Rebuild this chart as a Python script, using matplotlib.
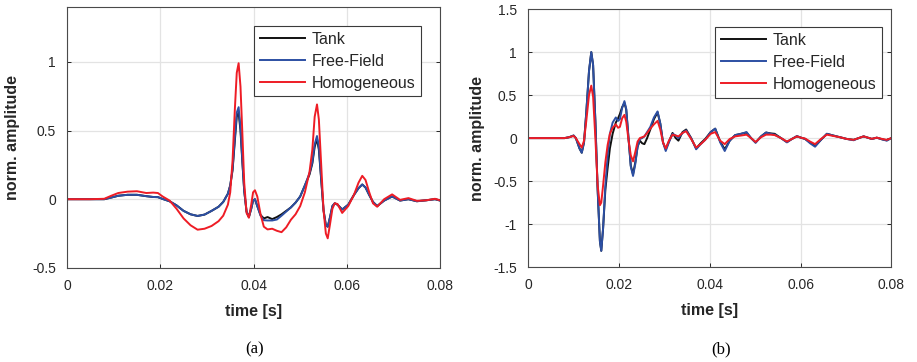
import matplotlib
matplotlib.use('Agg')
import matplotlib.pyplot as plt
import numpy as np

# --- panel (a): time in ms, normalised amplitude ---
t_a = [0, 5, 8, 9.5, 11, 13, 15, 17, 18.5, 19.5, 20.5, 22, 23.5, 25, 26.5, 28, 29.5, 31,
       32.5, 33.5, 34.5, 35.0, 35.5, 36.0, 36.4, 36.8, 37.2, 37.6, 38.0, 38.5, 39.0, 39.5,
       39.9, 40.3, 40.8, 41.5, 42.2, 43, 44, 45, 46, 47, 48, 49, 50, 51, 52, 52.6, 53.1,
       53.6, 54.0, 54.5, 55.0, 55.5, 55.9, 56.4, 56.9, 57.4, 58.0, 59, 60.3, 61.5, 62.5,
       63.3, 64.0, 64.8, 65.6, 66.5, 68, 69.7, 71.4, 73.2, 75, 77, 78.9, 80]
tank_a = [0, 0, 0, 0.012, 0.025, 0.032, 0.032, 0.022, 0.016, 0.015, 0.002, -0.015, -0.045,
          -0.085, -0.11, -0.122, -0.112, -0.085, -0.055, -0.02, 0.04, 0.10, 0.21, 0.43, 0.60,
          0.63, 0.50, 0.27, 0.06, -0.09, -0.13, -0.07, -0.01, 0.0, -0.05, -0.115, -0.14,
          -0.13, -0.145, -0.13, -0.11, -0.085, -0.06, -0.025, 0.02, 0.10, 0.18, 0.26, 0.38,
          0.44, 0.36, 0.14, -0.08, -0.19, -0.2, -0.13, -0.05, -0.03, -0.04, -0.075, -0.04,
          0.03, 0.08, 0.107, 0.085, 0.03, -0.02, -0.05, -0.01, 0.02, -0.01, 0.0, -0.015,
          -0.008, 0.0, -0.01]
free_a = [0, 0, 0, 0.012, 0.025, 0.032, 0.032, 0.022, 0.016, 0.015, 0.002, -0.015, -0.045,
          -0.085, -0.11, -0.122, -0.112, -0.085, -0.055, -0.02, 0.04, 0.10, 0.22, 0.45, 0.63,
          0.67, 0.52, 0.28, 0.06, -0.09, -0.13, -0.07, -0.01, 0.0, -0.05, -0.12, -0.153,
          -0.155, -0.155, -0.148, -0.12, -0.09, -0.06, -0.025, 0.02, 0.10, 0.19, 0.27, 0.40,
          0.46, 0.38, 0.15, -0.08, -0.19, -0.2, -0.13, -0.05, -0.03, -0.04, -0.075, -0.04,
          0.03, 0.08, 0.107, 0.085, 0.03, -0.02, -0.05, -0.01, 0.02, -0.01, 0.0, -0.015,
          -0.008, 0.0, -0.01]
homog_a = [0, 0, 0.003, 0.025, 0.045, 0.055, 0.058, 0.045, 0.048, 0.045, 0.02, -0.01, -0.07,
           -0.14, -0.19, -0.222, -0.215, -0.195, -0.16, -0.12, -0.04, 0.05, 0.28, 0.66, 0.92,
           0.99, 0.82, 0.48, 0.12, -0.10, -0.135, -0.04, 0.05, 0.065, 0.02, -0.11, -0.2,
           -0.22, -0.215, -0.23, -0.24, -0.205, -0.15, -0.11, -0.05, 0.05, 0.20, 0.36, 0.60,
           0.69, 0.58, 0.25, -0.08, -0.25, -0.285, -0.18, -0.07, -0.03, -0.035, -0.10, -0.05,
           0.03, 0.12, 0.17, 0.14, 0.05, -0.03, -0.055, 0.0, 0.035, -0.005, 0.008, -0.012,
           -0.008, 0.003, -0.008]

# --- panel (b) ---
t_b = [0, 8, 9, 10, 10.5, 11.3, 11.8, 12.3, 12.8, 13.4, 13.9, 14.3, 14.8, 15.3, 15.8, 16.1,
       16.5, 17.0, 17.5, 18.0, 18.6, 19.3, 19.8, 20.2, 20.7, 21.2, 21.6, 22.1, 22.6, 23.1,
       23.6, 24.1, 24.6, 25.1, 25.6, 26.2, 26.9, 27.7, 28.5, 29.1, 29.7, 30.3, 31.0, 31.8,
       32.5, 33.1, 34.0, 34.8, 35.9, 37.0, 38.0, 39.0, 40.2, 41.2, 42.3, 43.3, 44.4, 45.6,
       46.9, 48.1, 49.1, 50.1, 51.3, 52.4, 53.4, 54.3, 55.7, 57.0, 58.1, 59.2, 60.1, 61.0,
       62.1, 63.2, 64.5, 65.8, 67.2, 68.7, 70.2, 71.7, 72.8, 73.9, 75.7, 76.8, 78.0, 79.0, 80]
tank_b = [0, 0, 0.01, 0.03, 0.0, -0.12, -0.17, -0.05, 0.3, 0.78, 1.0, 0.85, 0.2, -0.6, -1.2,
          -1.31, -1.05, -0.6, -0.35, -0.12, 0.05, 0.18, 0.23, 0.28, 0.36, 0.41, 0.33, 0.0,
          -0.32, -0.42, -0.28, -0.1, -0.03, -0.06, -0.07, 0.0, 0.10, 0.22, 0.30, 0.17, -0.05,
          -0.13, -0.04, 0.06, 0.0, -0.03, 0.07, 0.10, 0.0, -0.12, -0.06, -0.01, 0.07, 0.11,
          -0.04, -0.13, -0.03, 0.035, 0.05, 0.065, 0.0, -0.05, 0.02, 0.065, 0.055, 0.05, 0.0,
          -0.045, -0.01, 0.02, 0.005, -0.01, -0.05, -0.09, -0.02, 0.05, 0.03, 0.01, -0.01,
          -0.02, 0.0, 0.02, -0.01, 0.005, -0.015, -0.025, 0.0]
free_b = [0, 0, 0.01, 0.03, 0.0, -0.12, -0.17, -0.05, 0.3, 0.78, 1.0, 0.85, 0.2, -0.6, -1.2,
          -1.31, -1.05, -0.55, -0.2, 0.05, 0.18, 0.24, 0.2, 0.22, 0.35, 0.43, 0.34, 0.0,
          -0.33, -0.44, -0.3, -0.1, -0.01, 0.0, 0.02, 0.07, 0.13, 0.24, 0.31, 0.17, -0.05,
          -0.15, -0.05, 0.05, 0.03, 0.0, 0.06, 0.09, 0.0, -0.13, -0.07, -0.02, 0.07, 0.11,
          -0.05, -0.15, -0.03, 0.035, 0.05, 0.07, 0.0, -0.055, 0.02, 0.065, 0.05, 0.04, 0.0,
          -0.05, -0.01, 0.025, 0.005, -0.01, -0.06, -0.10, -0.02, 0.05, 0.03, 0.01, -0.01,
          -0.025, 0.0, 0.02, -0.01, 0.005, -0.015, -0.03, 0.0]
homog_b = [0, 0, 0.01, 0.025, 0.0, -0.07, -0.11, -0.03, 0.2, 0.5, 0.61, 0.48, 0.0, -0.55,
           -0.78, -0.75, -0.55, -0.28, -0.08, 0.05, 0.12, 0.16, 0.12, 0.13, 0.23, 0.27, 0.19,
           -0.02, -0.2, -0.27, -0.16, -0.04, 0.0, 0.01, 0.02, 0.06, 0.11, 0.16, 0.20, 0.10,
           -0.05, -0.12, -0.03, 0.04, 0.03, 0.02, 0.06, 0.08, -0.01, -0.11, -0.07, -0.02, 0.05,
           0.07, -0.03, -0.07, -0.01, 0.02, 0.03, 0.04, 0.0, -0.045, 0.01, 0.04, 0.04, 0.035,
           0.0, -0.04, -0.01, 0.02, 0.005, -0.005, -0.04, -0.07, -0.01, 0.04, 0.025, 0.01,
           -0.01, -0.02, 0.0, 0.02, -0.008, 0.005, -0.01, -0.02, 0.0]

series_names = ['Tank', 'Free-Field', 'Homogeneous']
series_colors = ['#111111', '#2c4fa3', '#ee1c25']

plt.rcParams['font.family'] = ['Liberation Sans', 'DejaVu Sans']

fig = plt.figure(figsize=(9.17, 3.62), dpi=100)
ax_a = fig.add_axes([0.073, 0.260, 0.407, 0.721])
ax_b = fig.add_axes([0.576, 0.262, 0.396, 0.713])


def style_axes(ax, ylim, yticks, leg_anchor):
    ax.set_xlim(0, 0.08)
    ax.set_ylim(*ylim)
    ax.set_xticks([0, 0.02, 0.04, 0.06, 0.08])
    ax.set_xticklabels(['0', '0.02', '0.04', '0.06', '0.08'])
    ax.set_yticks(yticks)
    ax.set_yticklabels(['%g' % v for v in yticks])
    ax.grid(True, color='#e3e3e3', linewidth=0.9)
    ax.set_axisbelow(True)
    ax.tick_params(direction='in', length=3, width=0.7, colors='#262626',
                   labelsize=10, top=False, right=True, pad=8)
    for s in ax.spines.values():
        s.set_color('#4a4a4a')
        s.set_linewidth(0.8)
    ax.set_xlabel('time [s]', fontsize=11.5, fontweight='bold', color='#262626', labelpad=8)
    ax.set_ylabel('norm. amplitude', fontsize=11.5, fontweight='bold', color='#262626')
    leg = ax.legend(loc='upper right', bbox_to_anchor=leg_anchor, borderaxespad=0,
                    fontsize=11.5, fancybox=False, framealpha=1, edgecolor='#3a3a3a',
                    handlelength=2.8, borderpad=0.35, labelspacing=0.45, handletextpad=0.45)
    leg.get_frame().set_linewidth(0.8)
    for txt in leg.get_texts():
        txt.set_color('#262626')


for ax, t, ys in [(ax_a, t_a, [tank_a, free_a, homog_a]),
                  (ax_b, t_b, [tank_b, free_b, homog_b])]:
    tt = np.array(t) / 1000.0
    for y, name, c in zip(ys, series_names, series_colors):
        ax.plot(tt, y, color=c, linewidth=1.4, label=name)

style_axes(ax_a, (-0.5, 1.4), [-0.5, 0, 0.5, 1], (0.949, 0.927))
style_axes(ax_b, (-1.5, 1.5), [-1.5, -1, -0.5, 0, 0.5, 1, 1.5], (0.975, 0.930))
ax_a.yaxis.set_label_coords(-0.125, 0.5)
ax_b.yaxis.set_label_coords(-0.12, 0.5)

fig.text(0.278, 0.025, '(a)', family='Liberation Serif', fontsize=12, ha='center')
fig.text(0.786, 0.025, '(b)', family='Liberation Serif', fontsize=12, ha='center')

fig.savefig('out.png', dpi=100)
